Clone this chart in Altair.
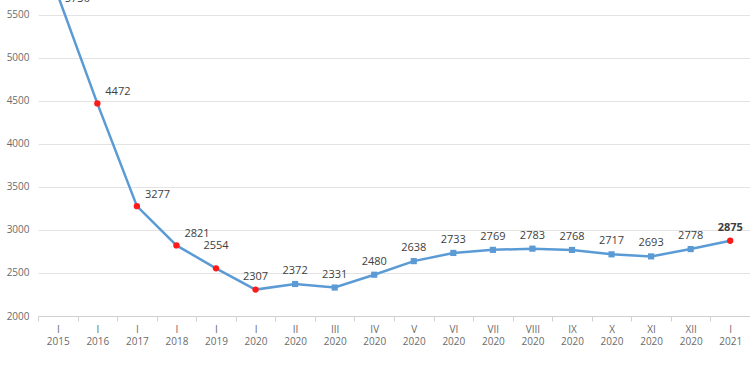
import altair as alt
import pandas as pd

months = ["I", "I", "I", "I", "I", "I", "II", "III", "IV", "V", "VI", "VII",
          "VIII", "IX", "X", "XI", "XII", "I"]
years = ["2015", "2016", "2017", "2018", "2019", "2020", "2020", "2020", "2020",
         "2020", "2020", "2020", "2020", "2020", "2020", "2020", "2020", "2021"]
values = [5730, 4472, 3277, 2821, 2554, 2307, 2372, 2331, 2480, 2638, 2733,
          2769, 2783, 2768, 2717, 2693, 2778, 2875]
y_ticks = [2000, 2500, 3000, 3500, 4000, 4500, 5000, 5500]

cats = [f"{m}|{y}" for m, y in zip(months, years)]
df = pd.DataFrame({"cat": cats, "month": months, "value": values,
                   "idx": list(range(len(values)))})

FONT = "Open Sans"
BLUE = "#5b9bd5"
RED = "#ff1a1a"

x = alt.X("cat:N", sort=cats, title=None,
          scale=alt.Scale(paddingInner=0, paddingOuter=0),
          axis=alt.Axis(labelExpr="split(datum.label, '|')", labelAngle=0,
                        labelFont=FONT, labelFontSize=10, labelColor="#6b6b6b",
                        labelLineHeight=12, labelPadding=3,
                        tickBand="extent", tickColor="#d0d0d0", tickSize=5,
                        domainColor="#d0d0d0", grid=False))
y = alt.Y("value:Q", title=None,
          scale=alt.Scale(domain=[2000, 5674], nice=False, zero=False),
          axis=alt.Axis(values=y_ticks, labelFont=FONT, labelFontSize=10,
                        labelColor="#6b6b6b", labelPadding=9, ticks=False,
                        domain=False, gridColor="#e3e3e3", format="d"))

base = alt.Chart(df).encode(x=x, y=y)

line = base.mark_line(color=BLUE, strokeWidth=2.5)
squares = base.transform_filter("datum.month != 'I'").mark_square(
    size=38, color=BLUE, opacity=1)
circles = base.transform_filter("datum.month == 'I'").mark_circle(
    size=40, color=RED, opacity=1)

txt = dict(font=FONT, fontSize=11, color="#404040")
lab_first = base.transform_filter("datum.idx == 0").mark_text(
    align="left", dx=7, dy=4, **txt).encode(text="value:Q")
lab_left = base.transform_filter("datum.idx >= 1 && datum.idx <= 3").mark_text(
    align="left", dx=8, dy=-11, **txt).encode(text="value:Q")
lab_2554 = base.transform_filter("datum.idx == 4").mark_text(
    align="center", dy=-22, **txt).encode(text="value:Q")
lab_mid = base.transform_filter("datum.idx >= 5 && datum.idx <= 16").mark_text(
    align="center", dy=-13, **txt).encode(text="value:Q")
lab_last = base.transform_filter("datum.idx == 17").mark_text(
    align="center", dy=-13, fontWeight="bold", **txt).encode(text="value:Q")

chart = alt.layer(line, squares, circles, lab_first, lab_left, lab_2554,
                  lab_mid, lab_last).properties(
    width=712, height=316,
    autosize=alt.AutoSizeParams(type="none"),
    padding={"left": 38, "top": 0, "right": 0, "bottom": 59},
    background="white",
).configure_view(stroke=None)

chart.save("out.html", embed_options={"renderer": "svg", "actions": False})
